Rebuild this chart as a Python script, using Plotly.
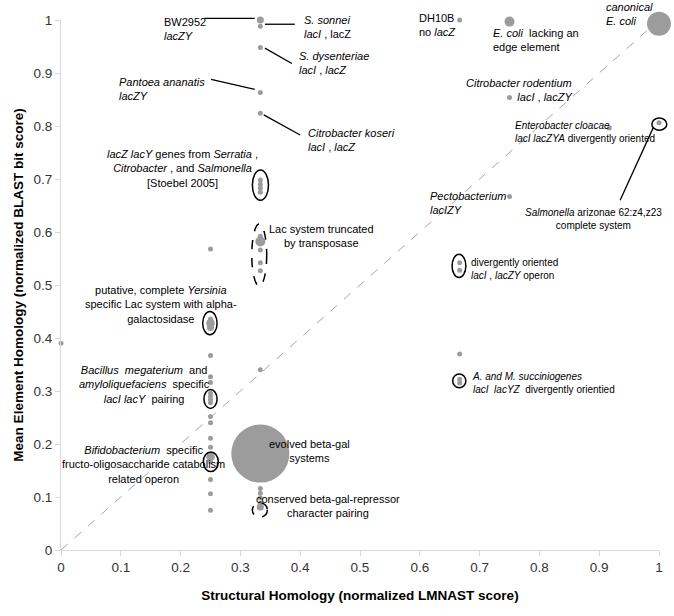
import numpy as np
import plotly.graph_objects as go

# ---- data ----
structural = ([0.0]
              + [0.25] * 20
              + [1/3] * 21
              + [2/3] * 6
              + [0.75] * 3
              + [0.917]
              + [1.0] * 2)
element = ([0.39]
           + [0.568, 0.436, 0.428, 0.420, 0.367, 0.327, 0.316, 0.296, 0.290, 0.284,
              0.278, 0.252, 0.240, 0.211, 0.194, 0.176, 0.167, 0.133, 0.106, 0.075]
           + [1.0, 0.988, 0.948, 0.863, 0.824, 0.698, 0.690, 0.683, 0.675, 0.592,
              0.582, 0.566, 0.542, 0.527, 0.340, 0.182, 0.116, 0.107, 0.098, 0.088, 0.081]
           + [1.0, 0.542, 0.528, 0.370, 0.322, 0.315]
           + [0.997, 0.854, 0.667]
           + [0.796]
           + [0.993, 0.806])
members = ([1]
           + [1, 1, 3, 2, 1, 1, 1, 1, 1, 1, 1, 1, 1, 1, 1, 3, 1, 1, 1, 1]
           + [2, 1, 1, 1, 1, 1, 1, 1, 1, 1, 4, 1, 1, 1, 1, 135, 1, 1, 1, 1, 2]
           + [1, 1, 1, 1, 1, 1]
           + [4, 1, 1]
           + [1]
           + [23, 1])

x_ticks = [0, 0.1, 0.2, 0.3, 0.4, 0.5, 0.6, 0.7, 0.8, 0.9, 1]
x_tick_labels = ["0", "0.1", "0.2", "0.3", "0.4", "0.5", "0.6", "0.7", "0.8", "0.9", "1"]
y_ticks = x_ticks
y_tick_labels = x_tick_labels

# annotation texts: (text, x, y, anchor, font size) in paper coords (== data coords, ranges are [0,1])
labels = [
    ("BW2952<br><i>lacZY</i>", 0.169, 0.983, "left", 11),
    ("<i>S. sonnei</i><br><i>lacI</i> , lacZ", 0.403, 0.986, "left", 11),
    ("<i>S. dysenteriae</i><br><i>lacI</i> , <i>lacZ</i>", 0.395, 0.918, "left", 11),
    ("<i>Pantoea ananatis</i><br><i>lacZY</i>", 0.094, 0.870, "left", 11),
    ("<i>Citrobacter koseri</i><br><i>lacI</i> , <i>lacZ</i>", 0.410, 0.774, "left", 11),
    ("DH10B<br>no <i>lacZ</i>", 0.595, 0.991, "left", 11),
    ("<i>E. coli</i>  lacking an<br>edge element", 0.719, 0.962, "left", 11),
    ("<i>canonical<br>E. coli</i>", 0.908, 1.012, "left", 11),
    ("<i>Citrobacter rodentium</i><br><i>lacI</i> , <i>lacZY</i>", 0.858, 0.868, "right", 11),
    ("<i>Enterobacter cloacae</i><br><i>lacI lacZYA</i> divergently oriented", 0.756, 0.789, "left", 10),
    ("<i>Salmonella</i> arizonae 62:z4,z23<br>complete system", 0.891, 0.625, "center", 10),
    ("<i>Pectobacterium</i><br><i>lacIZY</i>", 0.614, 0.654, "left", 11),
    ("divergently oriented<br><i>lacI</i> , <i>lacZY</i> operon", 0.682, 0.530, "left", 10),
    ("<i>A. and M. succiniogenes</i><br><i>lacI  lacYZ</i>  divergently orientied", 0.684, 0.316, "left", 10),
    ("<i>lacZ lacY</i> genes from <i>Serratia</i> ,<br><i>Citrobacter</i> , and <i>Salmonella</i><br>[Stoebel 2005]", 0.204, 0.719, "center", 11),
    ("Lac system truncated<br>by transposase", 0.436, 0.593, "center", 11),
    ("putative, complete <i>Yersinia</i><br>specific Lac system with alpha-<br>galactosidase", 0.168, 0.464, "center", 11),
    ("<i>Bacillus  megaterium</i>  and<br><i>amyloliquefaciens</i>  specific<br><i>lacI lacY</i>  pairing", 0.140, 0.312, "center", 11),
    ("<i>Bifidobacterium</i>  specific<br>fructo-oligosaccharide catabolism<br>related operon", 0.138, 0.162, "center", 11),
    ("evolved beta-gal<br>systems", 0.415, 0.187, "center", 11),
    ("conserved beta-gal-repressor<br>character pairing", 0.446, 0.083, "center", 11),
]

# leader lines (x0, y0, x1, y1)
leaders = [
    (0.240, 1.003, 0.324, 1.003),
    (0.341, 0.992, 0.391, 0.992),
    (0.341, 0.947, 0.386, 0.918),
    (0.251, 0.888, 0.324, 0.869),
    (0.339, 0.821, 0.400, 0.783),
    (0.990, 0.796, 0.935, 0.660),
]

# group outlines (x0, x1, y0, y1, dash)
outlines = [
    (0.320, 0.347, 0.660, 0.717, "solid"),
    (0.319, 0.344, 0.498, 0.615, "dash"),
    (0.237, 0.261, 0.406, 0.450, "solid"),
    (0.239, 0.261, 0.267, 0.303, "solid"),
    (0.238, 0.263, 0.148, 0.185, "solid"),
    (0.320, 0.345, 0.062, 0.089, "dash"),
    (0.654, 0.677, 0.514, 0.558, "solid"),
    (0.655, 0.677, 0.306, 0.332, "solid"),
    (0.988, 1.013, 0.792, 0.815, "solid"),
]

FONT = "Liberation Sans, Arial, sans-serif"

fig = go.Figure()
fig.add_trace(go.Scatter(
    x=[0, 1], y=[0, 1], mode="lines",
    line=dict(color="#a6a6a6", width=1, dash="dash"),
    hoverinfo="skip", showlegend=False,
))
fig.add_trace(go.Scatter(
    x=structural, y=element, mode="markers",
    marker=dict(size=5 * np.sqrt(np.array(members)), color="#9c9c9c",
                line=dict(width=0), opacity=1),
    cliponaxis=False, showlegend=False,
))

for text, x, y, align, fs in labels:
    fig.add_annotation(
        text=text, x=x, y=y, xref="paper", yref="paper",
        xanchor=align, yanchor="middle", align=align, showarrow=False,
        font=dict(family=FONT, size=fs, color="#000000"),
    )

for x0, y0, x1, y1 in leaders:
    fig.add_shape(type="line", x0=x0, y0=y0, x1=x1, y1=y1,
                  xref="paper", yref="paper", line=dict(color="#000000", width=1.3))

for x0, x1, y0, y1, dash in outlines:
    fig.add_shape(type="circle", x0=x0, x1=x1, y0=y0, y1=y1,
                  xref="paper", yref="paper",
                  line=dict(color="#000000", width=1.5, dash=dash))

axis_common = dict(
    range=[0, 1], showgrid=False, zeroline=False,
    showline=True, linecolor="#d9d9d9", linewidth=1,
    ticks="outside", ticklen=5, tickcolor="#d9d9d9",
    tickfont=dict(family=FONT, size=13.5, color="#333333"),
    automargin=False,
)

fig.update_layout(
    width=674, height=616,
    template="none",
    paper_bgcolor="white", plot_bgcolor="white",
    margin=dict(l=61, r=15, t=20, b=66),
    font=dict(family=FONT),
    xaxis=dict(**axis_common, tickvals=x_ticks, ticktext=x_tick_labels,
               title=dict(text="<b>Structural Homology (normalized LMNAST score)</b>",
                          font=dict(family=FONT, size=13.5, color="#000000"), standoff=16)),
    yaxis=dict(**axis_common, tickvals=y_ticks, ticktext=y_tick_labels,
               title=dict(text="<b>Mean Element Homology (normalized BLAST bit score)</b>",
                          font=dict(family=FONT, size=13.5, color="#000000"), standoff=6)),
)

# remove the default page margin so the figure fills the window exactly
fig.write_html("out.html", config={"displayModeBar": False},
               post_script="document.body.style.margin='0';")
